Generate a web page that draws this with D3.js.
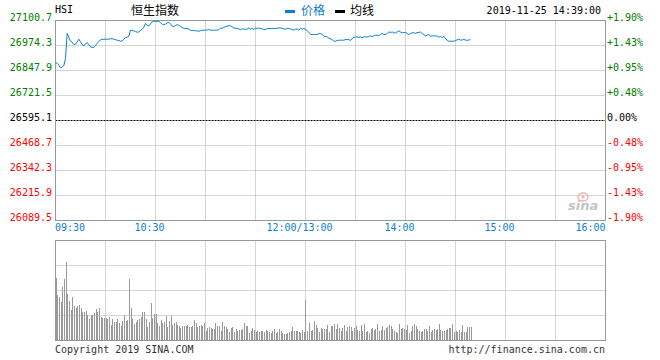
<!DOCTYPE html>
<html><head><meta charset="utf-8">
<script src="https://cdn.jsdelivr.net/npm/d3@7"></script>
<style>body{margin:0;background:#fff}svg{display:block}</style>
</head><body>
<svg id="c" width="660" height="360"></svg>
<script>
const symbol = "HSI";
const indexName = "恒生指数";
const legendNames = ["价格", "均线"];
const dateText = "2019-11-25 14:39:00";
const prevClose = 26595.1;
const priceTicks = [27100.7, 26974.3, 26847.9, 26721.5, 26595.1, 26468.7, 26342.3, 26215.9, 26089.5];
const pctTicks = ["+1.90%", "+1.43%", "+0.95%", "+0.48%", "0.00%", "-0.48%", "-0.95%", "-1.43%", "-1.90%"];
const gridMinutes = [30, 60, 90, 120, 150, 180, 210, 240, 270, 300];
const timeLabels = ["09:30", "10:30", "12:00/13:00", "14:00", "15:00", "16:00"];
const timeLabelMinutes = [0, 60, 150, 210, 270, 330];
const copyrightText = "Copyright 2019 SINA.COM";
const urlText = "http://finance.sina.com.cn";

// one value per trading minute from 09:30 (lunch break removed)
const prices = [
26888.3,26884.8,26874.7,26861.0,26866.1,26872.1,26908.5,27034.9,27016.2,26996.0,
26991.0,26979.3,26980.8,26992.5,27006.1,26992.5,26978.3,26974.3,26980.8,26989.4,
26978.3,26967.2,26964.2,26964.2,26974.3,26985.9,26994.5,27003.6,27006.1,27004.6,
27006.1,27006.1,27006.1,27008.6,27008.6,27006.1,27003.6,27001.1,26999.5,26996.0,
26997.5,27006.1,27014.7,27016.2,27021.3,27051.6,27050.1,27048.1,27045.0,27041.5,
27043.0,27050.1,27056.7,27066.8,27085.5,27075.4,27073.4,27083.5,27093.6,27097.1,
27097.1,27095.6,27097.1,27089.5,27082.0,27078.4,27083.5,27088.5,27090.6,27084.5,
27071.8,27070.3,27075.4,27079.4,27076.9,27070.3,27065.3,27061.7,27060.2,27060.2,
27056.7,27051.6,27050.1,27050.1,27049.1,27047.6,27046.6,27049.1,27051.6,27051.6,
27051.6,27053.1,27055.2,27051.6,27051.6,27051.6,27051.6,27051.6,27054.2,27063.3,
27060.2,27066.8,27069.3,27071.8,27074.4,27074.4,27068.3,27063.3,27060.7,27060.2,
27058.2,27054.2,27059.2,27056.7,27056.7,27056.7,27063.3,27056.7,27060.2,27055.2,
27061.7,27060.2,27063.3,27060.2,27058.2,27055.2,27055.2,27060.2,27060.2,27060.2,
27060.2,27060.2,27060.2,27061.7,27063.3,27063.3,27060.2,27058.2,27056.7,27060.2,
27060.2,27058.2,27055.2,27051.6,27056.7,27058.2,27051.6,27061.7,27056.7,27060.2,
27056.7,27049.1,27041.5,27031.4,27029.9,27029.9,27029.9,27029.9,27033.9,27034.9,
27031.4,27021.3,27019.8,27017.7,27011.2,27007.6,27004.6,26996.0,26996.0,26999.5,
27001.1,27001.1,27001.1,27001.1,27004.6,27004.6,27004.6,26999.5,27009.7,27016.2,
27017.7,27017.7,27014.7,27017.7,27014.7,27017.7,27017.7,27017.7,27019.8,27022.8,
27019.8,27022.8,27026.3,27026.3,27022.8,27031.4,27034.9,27029.9,27029.9,27034.9,
27043.0,27040.0,27043.0,27038.0,27038.0,27043.0,27048.1,27043.0,27038.0,27040.0,
27040.0,27034.9,27029.9,27034.9,27038.0,27040.0,27034.9,27040.0,27040.0,27043.0,
27034.9,27029.9,27022.8,27026.3,27029.9,27022.8,27022.8,27022.8,27022.8,27022.8,
27016.2,27019.8,27014.7,27019.8,27009.7,27001.1,26996.0,26996.0,26996.0,26996.0,
26999.5,27002.6,27006.1,27001.1,27002.6,27006.1,27001.1,27001.1,27001.1,27006.1];

// relative volume per minute (panel top = 100)
const volumes = [
62,45,43,38,53,61,78,46,39,30,43,34,32,34,35,32,28,28,29,25,
21,25,25,27,31,28,32,23,22,22,22,21,23,15,21,18,18,21,17,14,
19,25,19,20,61,32,21,16,18,20,21,23,28,28,21,13,18,37,22,26,
26,17,14,20,17,18,24,13,19,24,15,17,18,15,14,12,14,14,14,15,
13,13,14,
20,17,13,14,15,14,17,9,12,13,12,11,11,17,14,14,9,18,14,13,
11,8,12,13,8,11,9,10,10,11,17,14,14,7,9,12,10,8,9,8,
9,9,8,10,9,8,7,9,11,7,8,11,9,7,6,6,7,8,9,13,
9,9,9,8,7,10,8,40,9,17,9,10,19,15,12,8,12,11,11,11,
15,8,14,
14,16,11,16,12,9,12,15,9,13,14,13,9,12,14,10,9,15,9,16,
8,9,7,11,12,10,11,16,9,10,14,10,12,13,15,14,11,9,8,7,
16,11,12,11,10,15,7,9,14,16,14,11,9,8,9,11,11,9,14,8,
10,11,10,11,16,10,9,9,10,11,12,12,16,8,9,8,10,8,15,8,
8,13,13,13];

const svg = d3.select("#c");
const mono = "'DejaVu Sans Mono', monospace";
const cjk = "'Noto Sans CJK SC', sans-serif";
const blue = "#0a7fd0";
const green = "#008000";
const red = "#ff0000";
const gridColor = "#aaaaaa";
const frameColor = "#999999";

const x = d3.scaleLinear().domain([0, 330]).range([55.5, 605.5]);
const y = d3.scaleLinear().domain([26089.5, 27100.7]).range([220.5, 20.5]);
const yv = d3.scaleLinear().domain([0, 100]).range([340.5, 240.5]);

// price panel grid
const g = svg.append("g");
g.selectAll("line.vg").data(gridMinutes).join("line")
  .attr("x1", d => x(d)).attr("x2", d => x(d)).attr("y1", y.range()[1]).attr("y2", y.range()[0])
  .attr("stroke", gridColor).attr("stroke-dasharray", "1,1");
g.selectAll("line.hg").data(priceTicks.slice(1, -1).filter(d => d !== prevClose)).join("line")
  .attr("x1", x.range()[0]).attr("x2", x.range()[1]).attr("y1", d => y(d)).attr("y2", d => y(d))
  .attr("stroke", gridColor).attr("stroke-dasharray", "1,1");
g.append("line").attr("x1", x.range()[0]).attr("x2", x.range()[1])
  .attr("y1", y(prevClose)).attr("y2", y(prevClose))
  .attr("stroke", "#000").attr("stroke-dasharray", "2,1");
g.append("rect").attr("x", x.range()[0]).attr("y", y.range()[1])
  .attr("width", x.range()[1] - x.range()[0]).attr("height", y.range()[0] - y.range()[1])
  .attr("fill", "none").attr("stroke", frameColor);

// sina watermark
const wm = svg.append("g");
wm.append("ellipse").attr("cx", 583).attr("cy", 197).attr("rx", 5).attr("ry", 4)
  .attr("fill", "none").attr("stroke", "#f2b3b3").attr("stroke-width", 1.5);
wm.append("circle").attr("cx", 583).attr("cy", 197).attr("r", 1.5).attr("fill", "#f2b3b3");
wm.append("text").attr("x", 568).attr("y", 210).text("sina")
  .attr("font-family", "'DejaVu Sans', sans-serif").attr("font-size", 13).attr("font-style", "italic")
  .attr("font-weight", "bold").attr("fill", "#c4c4c4");

// price line
svg.append("path").datum(prices)
  .attr("d", d3.line().x((d, i) => x(i)).y(d => y(d)))
  .attr("fill", "none").attr("stroke", blue).attr("stroke-width", 1);

// left labels
svg.selectAll("text.lp").data(priceTicks).join("text")
  .attr("x", 52).attr("y", d => y(d) + 0.5).attr("text-anchor", "end")
  .attr("font-family", mono).attr("font-size", 10)
  .attr("fill", d => d > prevClose ? green : d < prevClose ? red : "#000")
  .text(d => d.toFixed(1));
// right labels
svg.selectAll("text.rp").data(pctTicks).join("text")
  .attr("x", 607).attr("y", (d, i) => y(priceTicks[i]) + 0.5)
  .attr("font-family", mono).attr("font-size", 10)
  .attr("fill", d => d[0] === "+" ? green : d[0] === "-" ? red : "#000")
  .text(d => d);
// time labels
svg.selectAll("text.tl").data(timeLabels).join("text")
  .attr("x", (d, i) => {
    const m = timeLabelMinutes[i];
    if (i === 0) return x(m) - 0.5;
    if (i === timeLabels.length - 1) return x(m);
    return x(m) - 6;
  })
  .attr("y", 231)
  .attr("text-anchor", (d, i) => i === 0 ? "start" : i === timeLabels.length - 1 ? "end" : "middle")
  .attr("font-family", mono).attr("font-size", 10).attr("fill", blue)
  .text(d => d);

// header
svg.append("text").attr("x", 55).attr("y", 13).text(symbol)
  .attr("font-family", mono).attr("font-size", 10).attr("fill", "#000");
svg.append("text").attr("x", 131).attr("y", 14.5).text(indexName)
  .attr("font-family", cjk).attr("font-size", 12).attr("fill", "#000");
svg.append("rect").attr("x", 285).attr("y", 10).attr("width", 10).attr("height", 3).attr("fill", blue);
svg.append("text").attr("x", 301).attr("y", 14.5).text(legendNames[0])
  .attr("font-family", cjk).attr("font-size", 12).attr("fill", blue);
svg.append("rect").attr("x", 335).attr("y", 10).attr("width", 10).attr("height", 3).attr("fill", "#000");
svg.append("text").attr("x", 350).attr("y", 14.5).text(legendNames[1])
  .attr("font-family", cjk).attr("font-size", 12).attr("fill", "#000");
svg.append("text").attr("x", 601).attr("y", 13.5).attr("text-anchor", "end").text(dateText)
  .attr("font-family", mono).attr("font-size", 10).attr("fill", "#000");

// volume panel grid
const gv = svg.append("g");
gv.selectAll("line.vg").data(gridMinutes).join("line")
  .attr("x1", d => x(d)).attr("x2", d => x(d)).attr("y1", yv.range()[1]).attr("y2", yv.range()[0])
  .attr("stroke", gridColor).attr("stroke-dasharray", "1,1");
gv.selectAll("line.hg").data([25, 50, 75]).join("line")
  .attr("x1", x.range()[0]).attr("x2", x.range()[1]).attr("y1", d => yv(d)).attr("y2", d => yv(d))
  .attr("stroke", gridColor).attr("stroke-dasharray", "1,1");

// volume bars
svg.append("g").selectAll("rect").data(volumes).join("rect")
  .attr("x", (d, i) => Math.round(x(i)))
  .attr("y", d => Math.round(yv(d) - 0.5))
  .attr("width", 1)
  .attr("height", d => Math.round(yv(0) - 0.5) - Math.round(yv(d) - 0.5))
  .attr("fill", "#999999").attr("shape-rendering", "crispEdges");

gv.append("rect").attr("x", x.range()[0]).attr("y", yv.range()[1])
  .attr("width", x.range()[1] - x.range()[0]).attr("height", yv.range()[0] - yv.range()[1])
  .attr("fill", "none").attr("stroke", frameColor);

// footer
svg.append("text").attr("x", 55).attr("y", 353).text(copyrightText)
  .attr("font-family", mono).attr("font-size", 10).attr("fill", "#333");
svg.append("text").attr("x", 605).attr("y", 353).attr("text-anchor", "end").text(urlText)
  .attr("font-family", mono).attr("font-size", 10).attr("fill", "#333");
</script>
</body></html>
